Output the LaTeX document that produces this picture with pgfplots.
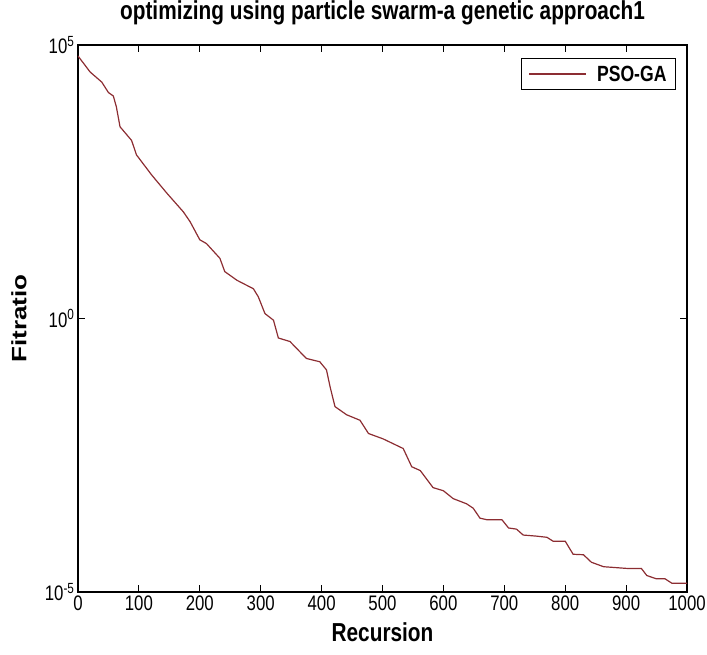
\documentclass[border=0pt]{standalone}
\usepackage{pgfplots}
\pgfplotsset{compat=1.18}
\usepackage{fontspec}
\setmainfont{Liberation Sans}[FakeStretch=0.8]
\newfontfamily\plainsans{Liberation Sans}
\definecolor{psoga}{RGB}{140,45,50}

\begin{document}
\begin{tikzpicture}
  \begin{axis}[
      scale only axis,
      width=609pt, height=547pt,
      ymode=log,
      xmin=0, xmax=1000,
      ymin=1e-5, ymax=1e5,
      xtick={0,100,...,1000},
      ytick={1e-5,1,1e5},
      yticklabels={10\textsuperscript{-5},10\textsuperscript{0},10\textsuperscript{5}},
      yminorticks=false,
      tick align=inside,
      major tick length=7pt,
      axis line style={line width=1.3pt},
      every tick/.style={black, line width=1.2pt},
      /pgf/number format/assume math mode=true,
      /pgf/number format/1000 sep={},
      tick label style={font=\fontsize{21}{24}\selectfont},
      title={\bfseries optimizing using particle swarm-a genetic approach1},
      title style={font=\fontsize{26}{30}\selectfont, at={(axis description cs:0.5,1)}, anchor=center, yshift=26pt},
      xlabel={\bfseries Recursion},
      xlabel style={font=\fontsize{26}{30}\selectfont, at={(axis description cs:0.5,0)}, anchor=center, yshift=-40pt},
      ylabel={\scalebox{1}[0.8]{\plainsans\bfseries Fitratio}},
      ylabel style={font=\fontsize{26}{30}\selectfont, at={(axis description cs:0,0.5)}, anchor=center, yshift=59pt},
      legend style={at={(rel axis cs:0.982,0.976)}, anchor=north east,
        draw=black, line width=1.1pt, font=\bfseries\fontsize{22}{26}\selectfont,
        inner xsep=7pt, inner ysep=5pt},
      legend image code/.code={\draw[psoga, line width=1.5pt] (0pt,0pt) -- (57pt,0pt);},
    ]
    \addplot[psoga, line width=1.2pt] coordinates {
      (0,6.3e4) (20,3.2e4) (39,2.1e4) (50,1.35e4) (58,1.17e4) (63,7.4e3)
      (69,3.2e3) (88,1.8e3) (96,980) (121,420) (146,195) (173,89)
      (184,59) (200,27.5) (211,23.4) (233,12.6) (241,7.2) (261,5.0)
      (288,3.5) (296,2.5) (307,1.23) (321,0.93) (329,0.44) (348,0.38)
      (375,0.186) (397,0.162) (408,0.115) (414,0.056) (422,0.0245)
      (441,0.0174) (463,0.0138) (477,7.9e-3) (501,6.3e-3) (534,4.2e-3)
      (548,1.95e-3) (562,1.66e-3) (583,8.1e-4) (600,7.1e-4) (616,5.1e-4)
      (638,4.1e-4) (649,3.4e-4) (660,2.24e-4) (671,2.1e-4) (696,2.1e-4)
      (707,1.48e-4) (720,1.41e-4) (731,1.1e-4) (753,1.05e-4) (770,1.0e-4)
      (780,8.5e-5) (800,8.5e-5) (813,4.9e-5) (830,4.8e-5) (843,3.5e-5)
      (863,2.9e-5) (901,2.7e-5) (925,2.7e-5) (934,2.0e-5) (950,1.74e-5)
      (964,1.74e-5) (975,1.45e-5) (1000,1.45e-5)
    };
    \addlegendentry{\hspace{8pt}PSO-GA}
  \end{axis}
  \pgfresetboundingbox
  \path[use as bounding box]
    ([shift={(-78pt,-62pt)}]current axis.south west)
    rectangle ([shift={(20pt,45pt)}]current axis.north east);
\end{tikzpicture}
\end{document}
